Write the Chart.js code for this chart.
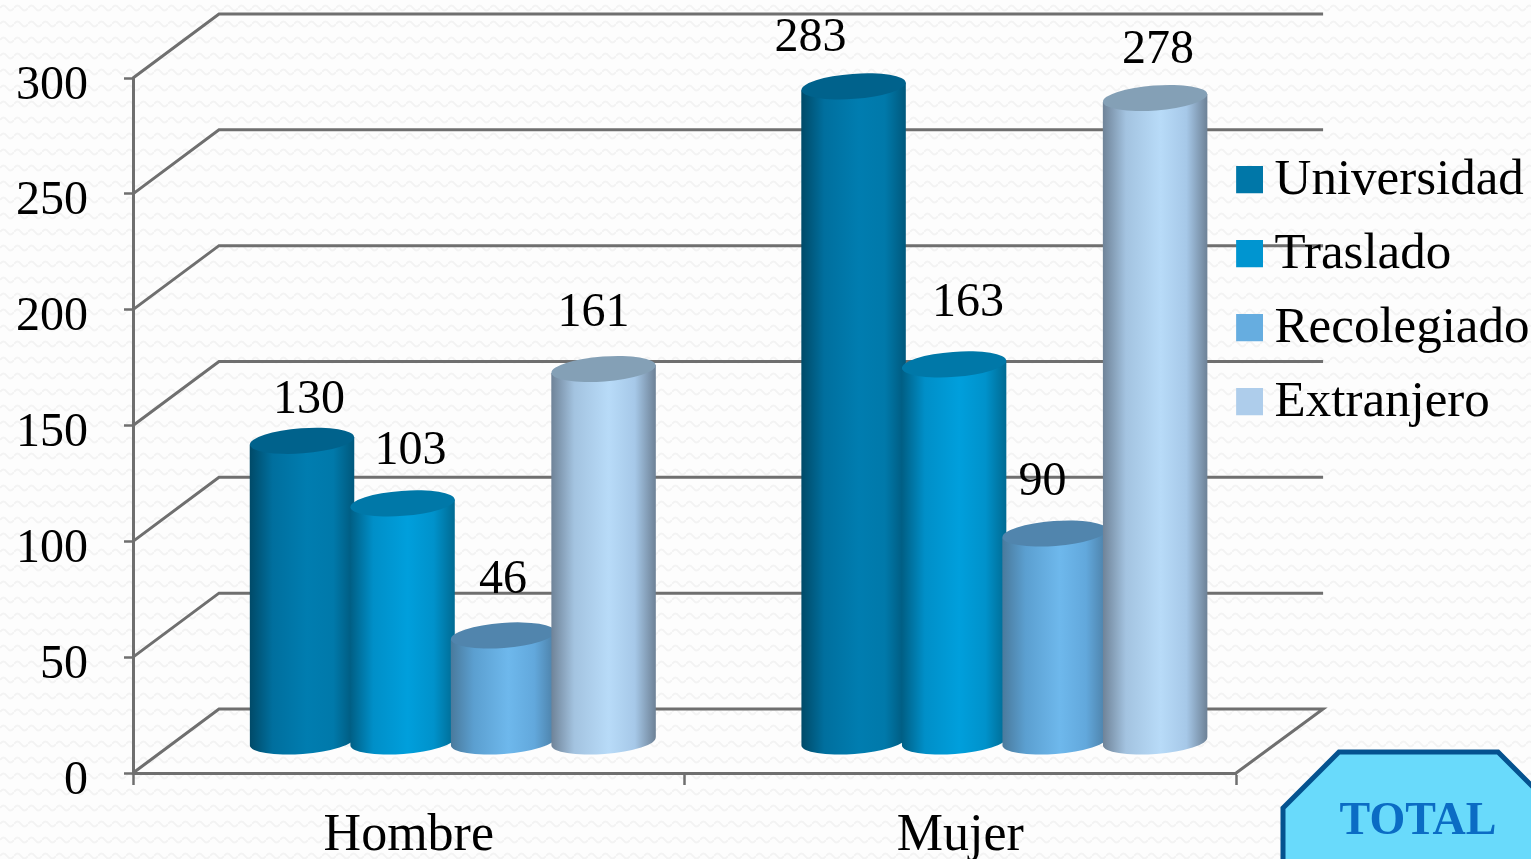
<!DOCTYPE html>
<html lang="es">
<head>
<meta charset="utf-8">
<title>Total</title>
<script src="https://cdn.jsdelivr.net/npm/chart.js@4"></script>
<style>
  html, body { margin: 0; padding: 0; width: 1531px; height: 859px; overflow: hidden; }
  body {
    background-color: #fdfdfd;
    background-image: url("data:image/svg+xml,%3Csvg xmlns='http://www.w3.org/2000/svg' width='14' height='16'%3E%3Cpath d='M0 8 Q3.5 3 7 8 T14 8' fill='none' stroke='%23f3f3f3' stroke-width='2'/%3E%3C/svg%3E");
  }
  canvas { display: block; }
</style>
</head>
<body>
<canvas id="chart" width="1531" height="859"></canvas>
<script>
const categories = ['Hombre', 'Mujer'];
const seriesNames = ['Universidad', 'Traslado', 'Recolegiado', 'Extranjero'];
const universidad = [130, 283];
const traslado = [103, 163];
const recolegiado = [46, 90];
const extranjero = [161, 278];
const yTicks = [0, 50, 100, 150, 200, 250, 300];
const boxLabel = 'TOTAL';

// colours: legend swatch, cylinder top, and side gradient left to right
const swatch = ['#0077a8', '#0095d0', '#66ade0', '#aecdeb'];
const topFill = ['#00628c', '#0078a8', '#5185ad', '#84a0b6'];
const sideStops = [
  ['#004a68', '#006f9e', '#007db0', '#0079aa', '#00587c'],
  ['#005f85', '#008fc8', '#009fdc', '#0092cb', '#006a92'],
  ['#4a7a9c', '#5b9fd0', '#6eb8ec', '#62a8dc', '#4c7fa6'],
  ['#6f8398', '#a3c3e0', '#b8dbf8', '#a6c8e8', '#6d8196'],
];

// nudges of each value label from the cylinder top: [dx, dy] by series, then category
const labelShift = [
  [[7, -40], [-43, -48]],
  [[8, -52], [14, -61]],
  [[0, -55], [-12, -51]],
  [[-10, -56], [3, -48]],
];

const GRID = '#6f6f6f';
const SERIF = '"Liberation Serif", serif';
const WALL_DX = 86, WALL_DY = -64;    // back wall offset from the front plane
const BAR_DX = 44, BAR_DY = -31;      // cylinders stand halfway into the floor
const TILT = -0.075;

// Chart.js ties the legend's row gap to its left padding, so the square sits
// off-centre in its image and the legend box is pulled left in afterLayout
function legendSquare(color){
  const c = document.createElement('canvas');
  c.width = 29; c.height = 29;
  const g = c.getContext('2d');
  g.fillStyle = color;
  g.fillRect(2, 0, 27, 27);
  return c;
}

const walls = {
  id: 'walls',
  afterLayout(chart){
    chart.legend.left = chart.chartArea.right - 11;
  },
  beforeDraw(chart){
    const { ctx, chartArea: a, scales: { y } } = chart;
    ctx.save();
    ctx.strokeStyle = GRID;
    ctx.lineWidth = 3;
    ctx.lineJoin = 'miter';
    yTicks.forEach(v => {
      const py = y.getPixelForValue(v);
      ctx.beginPath();
      ctx.moveTo(a.left, py);
      ctx.lineTo(a.left + WALL_DX, py + WALL_DY);
      ctx.lineTo(a.right + WALL_DX + 1, py + WALL_DY);
      if (v === 0) ctx.lineTo(a.right, py);
      ctx.stroke();
    });
    ctx.restore();
  },
};

function cylinder(ctx, bar, i){
  const cx = bar.x + BAR_DX;
  const rx = bar.width / 2 + 2;
  const ry = 12.5;
  const topY = bar.y + BAR_DY;
  const baseY = bar.base + BAR_DY;
  const dy = Math.sin(TILT) * rx;
  const grad = ctx.createLinearGradient(cx - rx, 0, cx + rx, 0);
  [0, 0.22, 0.55, 0.8, 1].forEach((p, k) => grad.addColorStop(p, sideStops[i][k]));

  ctx.beginPath();
  ctx.moveTo(cx - rx, topY - dy);
  ctx.lineTo(cx + rx, topY + dy);
  ctx.lineTo(cx + rx, baseY + dy);
  ctx.ellipse(cx, baseY, rx, ry, TILT, 0, Math.PI);
  ctx.closePath();
  ctx.fillStyle = grad;
  ctx.fill();

  ctx.beginPath();
  ctx.ellipse(cx, topY, rx, ry, TILT, 0, Math.PI * 2);
  ctx.fillStyle = topFill[i];
  ctx.fill();
}

const cylinders = {
  id: 'cylinders',
  afterDatasetsDraw(chart){
    const { ctx } = chart;
    ctx.save();
    chart.data.datasets.forEach((ds, i) => {
      chart.getDatasetMeta(i).data.forEach(bar => cylinder(ctx, bar, i));
    });
    ctx.restore();
  },
};

const valueLabels = {
  id: 'valueLabels',
  afterDraw(chart){
    const { ctx } = chart;
    ctx.save();
    ctx.font = '48px ' + SERIF;
    ctx.fillStyle = '#000';
    ctx.textAlign = 'center';
    ctx.textBaseline = 'middle';
    chart.data.datasets.forEach((ds, i) => {
      chart.getDatasetMeta(i).data.forEach((bar, j) => {
        const [dx, dy] = labelShift[i][j];
        ctx.fillText(ds.data[j], bar.x + BAR_DX + dx, bar.y + BAR_DY + dy);
      });
    });
    ctx.restore();
  },
};

const totalBox = {
  id: 'totalBox',
  afterDraw(chart){
    const { ctx } = chart;
    ctx.save();
    ctx.beginPath();
    ctx.moveTo(1283, 870);
    ctx.lineTo(1283, 808);
    ctx.lineTo(1339, 752);
    ctx.lineTo(1498, 752);
    ctx.lineTo(1540, 794);
    ctx.lineTo(1540, 870);
    ctx.closePath();
    ctx.fillStyle = '#69dafb';
    ctx.fill();
    ctx.strokeStyle = '#04528f';
    ctx.lineWidth = 5;
    ctx.stroke();
    ctx.font = 'bold 46px ' + SERIF;
    ctx.fillStyle = '#0b6cc4';
    ctx.textAlign = 'center';
    ctx.textBaseline = 'alphabetic';
    ctx.fillText(boxLabel, 1418, 834);
    ctx.restore();
  },
};

const seriesValues = [universidad, traslado, recolegiado, extranjero];

new Chart(document.getElementById('chart'), {
  type: 'bar',
  data: {
    labels: categories,
    datasets: seriesNames.map((name, i) => ({
      label: name,
      data: seriesValues[i],
      backgroundColor: 'transparent',
      pointStyle: legendSquare(swatch[i]),
      categoryPercentage: 0.729,
      barPercentage: 1,
    })),
  },
  options: {
    responsive: false,
    animation: false,
    layout: { padding: { top: 78, right: -19.5, bottom: 0, left: 0 } },
    plugins: {
      tooltip: { enabled: false },
      legend: {
        position: 'right',
        align: 'start',
        title: { display: true, text: ' ', font: { size: 1 }, padding: { top: 26.5, bottom: 26.5 } },
        labels: {
          usePointStyle: true,
          boxWidth: 1,
          padding: 23,
          color: '#000',
          font: { family: SERIF, size: 51 },
          generateLabels(chart){
            return chart.data.datasets.map((ds, i) => ({
              text: ds.label,
              fillStyle: swatch[i],
              strokeStyle: swatch[i],
              fontColor: '#000',
              lineWidth: 0,
              pointStyle: ds.pointStyle,
              datasetIndex: i,
            }));
          },
        },
      },
    },
    scales: {
      x: {
        afterFit(s){ s.height = 86; },
        border: { color: GRID, width: 3 },
        grid: { drawOnChartArea: false, tickLength: 12, tickWidth: 2.5, tickColor: GRID, offset: true },
        ticks: { color: '#000', padding: 20, maxRotation: 0, font: { family: SERIF, size: 52 } },
      },
      y: {
        min: yTicks[0],
        max: yTicks[yTicks.length - 1],
        afterFit(s){ s.width = 133; },
        border: { color: GRID, width: 3 },
        grid: { drawOnChartArea: false, tickLength: 9, tickWidth: 2.5, tickColor: GRID },
        ticks: { stepSize: 50, color: '#000', padding: 36, labelOffset: 8, font: { family: SERIF, size: 48 } },
      },
    },
  },
  plugins: [walls, cylinders, valueLabels, totalBox],
});
</script>
</body>
</html>
